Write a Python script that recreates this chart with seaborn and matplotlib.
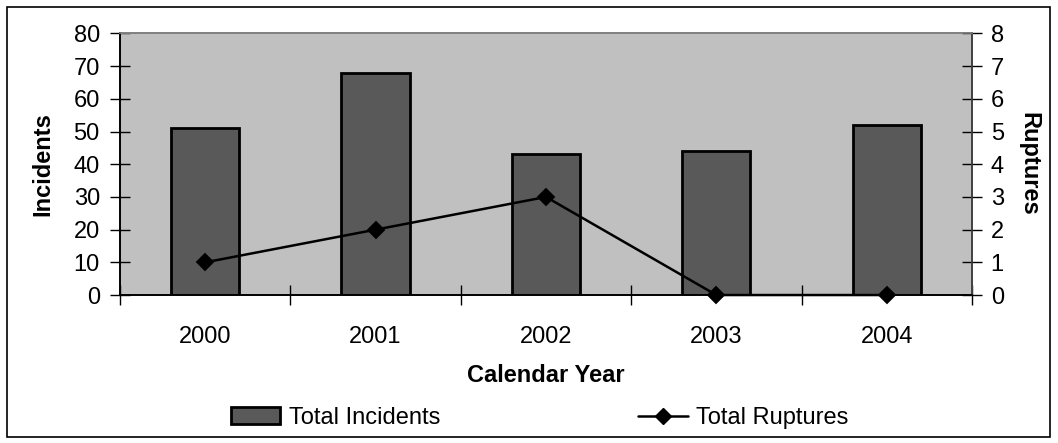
import numpy as np
import pandas as pd
import matplotlib
matplotlib.use("Agg")
import matplotlib.pyplot as plt
from matplotlib.patches import Rectangle
from matplotlib.lines import Line2D
from matplotlib.patches import Patch
import seaborn as sns

years = ["2000", "2001", "2002", "2003", "2004"]
incidents = [51, 68, 43, 44, 52]
ruptures = [1, 2, 3, 0, 0]

df = pd.DataFrame({"year": years, "incidents": incidents, "ruptures": ruptures})

sns.set_theme(style="white")
plt.rcParams["font.family"] = ["Liberation Sans", "DejaVu Sans"]
plt.rcParams["text.color"] = "black"
plt.rcParams["axes.labelcolor"] = "black"
plt.rcParams["xtick.color"] = "black"
plt.rcParams["ytick.color"] = "black"
FS = 17

fig = plt.figure(figsize=(10.58, 4.43), dpi=100)
ax = fig.add_axes([0.1134, 0.334, 0.9187 - 0.1134, 0.9244 - 0.334])
ax.set_facecolor("#C0C0C0")

sns.barplot(data=df, x="year", y="incidents", ax=ax, color="#595959",
            width=0.4, edgecolor="black", linewidth=2, saturation=1)

ax2 = ax.twinx()
sns.pointplot(data=df, x="year", y="ruptures", ax=ax2, color="black",
              markers="D", linestyles="-", linewidth=1.8, markersize=8)
for ln in ax2.lines:
    ln.set_clip_on(False)
for coll in ax2.collections:
    coll.set_clip_on(False)

ax.set_xlim(-0.5, 4.5)
ax.set_ylim(0, 80)
ax2.set_ylim(0, 8)
ax.set_yticks(np.arange(0, 81, 10))
ax2.set_yticks(np.arange(0, 9, 1))

# Category labels at centres, tick marks at category boundaries
ax.set_xticks(range(len(years)))
ax.set_xticklabels(years)
ax.set_xticks(np.arange(-0.5, 5, 1), minor=True)
ax.tick_params(axis="x", which="major", length=0, pad=22, labelsize=FS,
               labelcolor="black")
ax.tick_params(axis="x", which="minor", direction="inout", length=14,
               width=1, color="black", bottom=True)
ax.tick_params(axis="y", which="major", direction="inout", length=15,
               width=1, color="black", left=True, labelsize=FS, pad=7,
               labelcolor="black")
ax2.tick_params(axis="y", which="major", direction="inout", length=15,
                width=1, color="black", right=True, labelsize=FS, pad=6,
                labelcolor="black")
ax2.tick_params(axis="x", length=0)

ax.set_xlabel("Calendar Year", fontsize=FS, fontweight="bold", labelpad=12,
              color="black")
ax.set_ylabel("Incidents", fontsize=FS, fontweight="bold", labelpad=14,
              color="black")
ax2.set_ylabel("Ruptures", fontsize=FS, fontweight="bold", rotation=270,
               labelpad=26, color="black")

for a in (ax, ax2):
    a.grid(False)
    a.spines["left"].set_color("black")
    a.spines["bottom"].set_color("black")
    a.spines["top"].set_color("#808080")
    a.spines["right"].set_color("#404040")
    for s in a.spines.values():
        s.set_linewidth(1.2)

handles = [
    Patch(facecolor="#595959", edgecolor="black", linewidth=2),
    Line2D([0], [0], color="black", marker="D", markersize=8, linewidth=1.8),
]
fig.legend(handles, ["Total Incidents", "Total Ruptures"], loc="center",
           bbox_to_anchor=(0.51, 1 - 418 / 443), ncol=2, frameon=False,
           fontsize=FS, handlelength=2.1, handleheight=0.7,
           handletextpad=0.35, columnspacing=8.4, labelcolor="black")

fig.patches.append(Rectangle((7 / 1058, 1 - 437 / 443), 1043 / 1058, 430 / 443,
                             transform=fig.transFigure, fill=False,
                             edgecolor="black", linewidth=1.2))

fig.savefig("out.png", dpi=100)
